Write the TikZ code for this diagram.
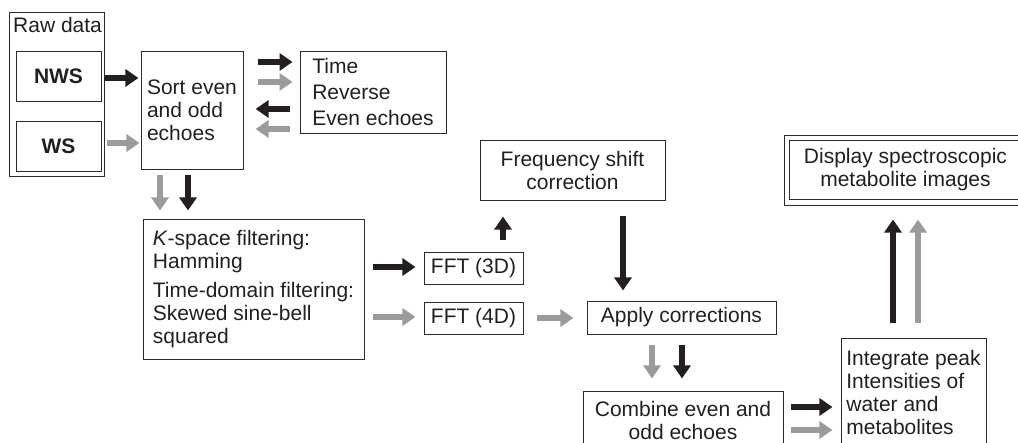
\documentclass[tikz,border=0pt]{standalone}
\usepackage{fontspec}
\setmainfont{Liberation Sans}
\usetikzlibrary{arrows.meta,calc}
\definecolor{ink}{HTML}{231F20}
\definecolor{gry}{HTML}{9B9B9B}
\definecolor{frame}{HTML}{2B2B2B}
\newcommand\diagfont{\fontsize{21}{23}\selectfont}
\begin{document}
\begin{tikzpicture}[x=1pt,y=-1pt,
  every node/.style={font=\diagfont, text=ink},
  box/.style={draw=frame, line width=0.9pt, inner sep=0pt},
  thinline/.style={draw=frame, line width=0.8pt},
  blk/.style={draw=ink, line width=5.5pt, -{Triangle[length=13pt,width=17pt]}},
  gar/.style={draw=gry, line width=5.5pt, -{Triangle[length=13pt,width=17pt]}}]
\useasboundingbox (0,0) rectangle (1018,443);
\clip (0,0) rectangle (1018,443);
% Raw data group
\node[box, minimum width=94.7pt, minimum height=163.7pt] (raw) at (56.65,94.15) {};
\node[anchor=base west, inner sep=0pt] (rawlbl) at (13,33) {Raw data};
\node[box, minimum width=85pt, minimum height=50pt, font=\diagfont\bfseries] (nws) at (58.5,76) {NWS};
\node[box, minimum width=85pt, minimum height=50pt, font=\diagfont\bfseries] (ws) at (58.5,146) {WS};
% Sort
\node[box, minimum width=102pt, minimum height=118pt, align=left] (sort) at (192,110) {Sort even\\and odd\\echoes};
\node[box, minimum width=146pt, minimum height=82pt, align=left,
      font=\fontsize{21}{26}\selectfont] (time) at (373,92) {Time\\Reverse\\Even echoes};
% Filtering
\node[box, minimum width=221pt, minimum height=140pt, align=left] (filter) at (253.5,289)
  {\textit{K}-space filtering:\\Hamming\\[6pt]Time-domain filtering:\\Skewed sine-bell\\squared};
\node[box, minimum width=99pt, minimum height=32pt] (fft3) at (473.5,268) {FFT (3D)};
\node[box, minimum width=99pt, minimum height=32pt] (fft4) at (473.5,318) {FFT (4D)};
\node[box, minimum width=185pt, minimum height=60pt, align=center] (freq) at (572.5,170) {Frequency shift\\correction};
\node[box, minimum width=189pt, minimum height=33pt] (apply) at (681.5,317.5) {Apply corrections};
\node[box, minimum width=200pt, minimum height=59pt, align=center] (combine) at (683,420.5) {Combine even and\\odd echoes};
\node[box, minimum width=145pt, minimum height=108pt, align=left] (integrate) at (913.5,392)
  {Integrate peak\\Intensities of\\water and\\metabolites};
\node[box, line width=0.8pt, minimum width=243pt, minimum height=70pt, align=center] (disp) at (905.5,170)
  {Display spectroscopic\\metabolite images};
\draw[thinline] ($(disp.north west)+(5.5,5.5)$) rectangle ($(disp.south east)+(-5.5,-5.5)$);
% Connectors
\draw[blk] ($(nws.east)+(3,2)$) -- ++(34,0);
\draw[gar] ($(ws.east)+(6,-3)$) -- ++(32,0);
\draw[blk] ($(time.west)+(-42,-30)$) -- ++(35,0);
\draw[gar] ($(time.west)+(-42,-10)$) -- ++(35,0);
\draw[blk] ($(time.west)+(-10,17)$) -- ++(-34,0);
\draw[gar] ($(time.west)+(-10,37)$) -- ++(-34,0);
\draw[gar] ($(sort.south)+(-32,6)$) -- ++(0,35);
\draw[blk] ($(sort.south)+(-4,6)$) -- ++(0,35);
\draw[blk] ($(filter.east)+(9,-22)$) -- ++(42,0);
\draw[gar] ($(filter.east)+(9,28)$) -- ++(42,0);
\draw[blk] ($(fft3.north)+(29.5,-12)$) -- ++(0,-23);
\draw[blk] ($(freq.south)+(50.5,16)$) -- ++(0,74);
\draw[gar] ($(fft4.east)+(14,0)$) -- ++(36,0);
\draw[gar] ($(apply.south)+(-29.5,11)$) -- ++(0,33);
\draw[blk] ($(apply.south)+(0.5,11)$) -- ++(0,33);
\draw[blk] ($(combine.east)+(8,-13.5)$) -- ++(41,0);
\draw[gar] ($(combine.east)+(8,9.5)$) -- ++(41,0);
\draw[blk] ($(integrate.north)+(-20.5,-15)$) -- ++(0,-103);
\draw[gar] ($(integrate.north)+(4.5,-15)$) -- ++(0,-103);
\end{tikzpicture}
\end{document}
